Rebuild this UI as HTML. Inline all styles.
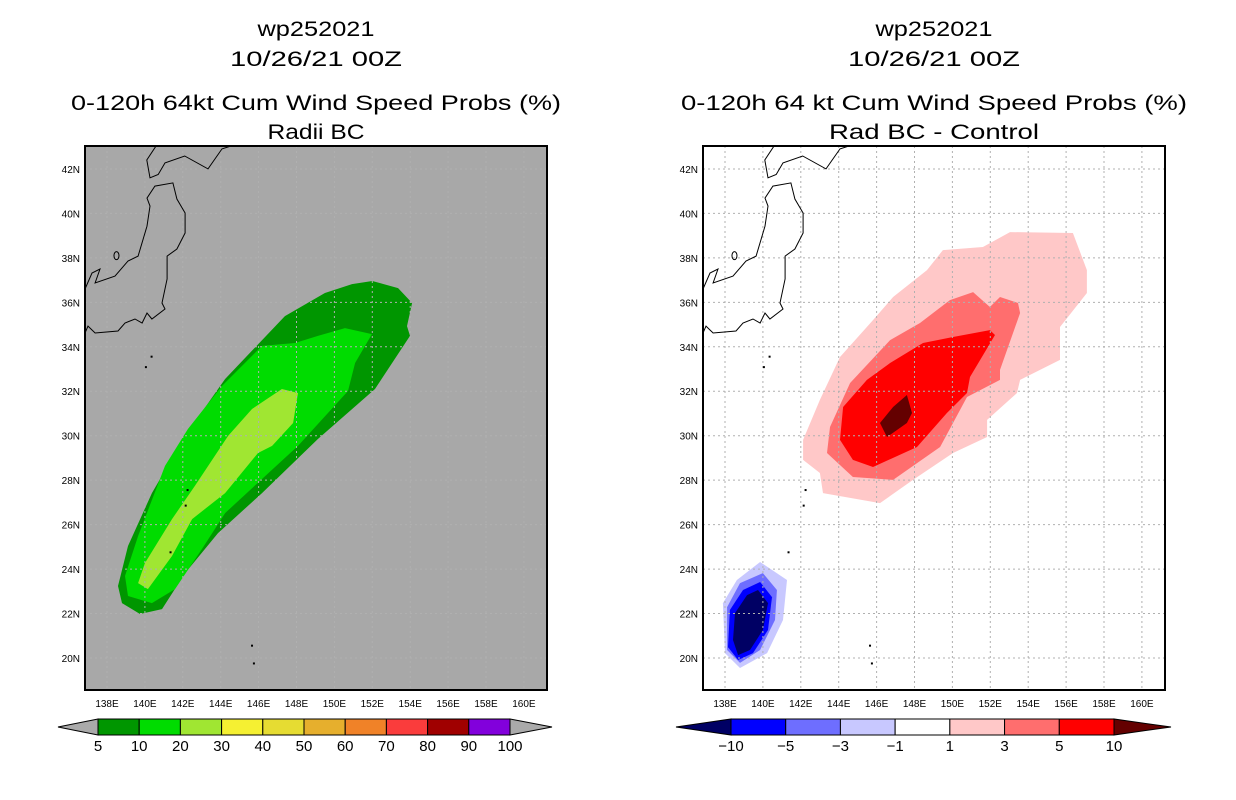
<!DOCTYPE html>
<html><head><meta charset="utf-8"><style>
html,body{margin:0;padding:0;background:#fff;}
svg{display:block;}
text{font-family:"Liberation Sans",sans-serif;}
</style></head><body>
<svg id="fig" width="1236" height="800" viewBox="0 0 1236 800">
<g id="left"></g>
<g id="right"></g>
</svg>
<script>
// ---- data ----
const latTicks = [20,22,24,26,28,30,32,34,36,38,40,42];
const lonTicks = [138,140,142,144,146,148,150,152,154,156,158,160];
const leftLevels = ['5','10','20','30','40','50','60','70','80','90','100'];
const leftColors = ['#009600','#00dc00','#a0e632','#f5f032','#e6dc32','#e6af2d','#f08228','#fa3c3c','#a00000','#8200dc'];
const rightLevels = ['−10','−5','−3','−1','1','3','5','10'];
const rightColors = ['#0000ff','#6e6eff','#c8c8ff','#ffffff','#ffc8c8','#ff6e6e','#ff0000'];
const prob5 = [[152.0,36.96],[153.36,36.64],[154.1,35.97],[153.83,34.93],[153.99,34.49],[152.14,32.1],[149.13,29.85],[146.18,27.42],[143.86,25.62],[142.12,23.82],[140.9,22.2],[139.74,21.98],[138.79,22.47],[138.58,23.24],[139.11,25.04],[140.37,27.42],[142.12,29.99],[144.23,32.55],[147.39,35.38],[149.5,36.42],[150.93,36.82]];
const prob10 = [[150.56,34.84],[151.98,34.57],[151.09,33.27],[150.72,32.01],[148.08,29.54],[146.18,28.05],[144.23,26.52],[143.01,24.9],[141.59,23.1],[140.37,22.47],[139.11,22.79],[138.95,23.69],[139.64,25.49],[141.06,28.64],[142.27,30.3],[144.07,32.24],[146.18,34.04],[147.92,34.17],[149.13,34.49]];
const prob20 = [[147.23,32.1],[148.08,31.92],[147.82,30.57],[146.71,29.54],[145.97,29.22],[144.23,27.42],[142.49,26.25],[141.43,24.59],[140.16,23.1],[139.64,23.37],[140.0,24.27],[141.43,26.25],[142.64,27.74],[144.39,29.99],[145.65,31.2]];
const diffP1 = [[153.04,39.16],[156.36,39.12],[157.1,37.45],[157.1,36.42],[155.68,34.89],[155.68,33.41],[153.57,32.51],[153.41,31.92],[151.83,30.71],[151.83,29.94],[150.03,29.22],[147.92,28.01],[146.18,26.97],[143.17,27.42],[143.01,28.32],[142.12,28.91],[142.12,29.81],[143.01,31.61],[144.07,33.54],[145.81,35.2],[146.87,36.24],[148.66,37.45],[149.5,38.35],[151.61,38.49]];
const diffP3 = [[151.09,36.46],[151.98,35.79],[152.51,36.24],[153.46,35.97],[153.57,35.52],[152.51,32.96],[152.51,32.51],[150.77,31.74],[149.35,29.49],[146.87,28.01],[144.75,28.14],[143.38,29.22],[143.54,30.39],[144.6,32.37],[146.71,34.3],[148.29,35.07],[149.87,36.1]];
const diffP5 = [[151.98,34.75],[152.25,34.53],[150.93,32.64],[150.77,31.92],[149.71,31.02],[148.13,29.49],[145.81,28.59],[144.75,28.91],[144.07,29.81],[144.23,31.29],[145.49,32.51],[146.71,33.27],[148.45,34.17],[150.03,34.44]];
const diffP10 = [[147.6,31.83],[147.87,31.02],[147.6,30.57],[146.55,29.94],[146.18,30.57],[146.87,31.29]];
const diffN1 = [[139.85,24.32],[141.27,23.51],[141.06,21.71],[140.22,20.22],[138.79,19.55],[138.0,20.22],[137.89,22.47],[138.63,23.51]];
const diffN3 = [[140.0,23.82],[140.74,23.06],[140.64,21.71],[139.85,20.36],[138.79,19.78],[138.11,20.36],[138.11,22.29],[138.79,23.37]];
const diffN5 = [[139.85,23.42],[140.48,22.74],[140.27,21.26],[139.48,20.22],[138.69,19.91],[138.16,20.49],[138.26,22.16],[138.95,23.06]];
const diffN10 = [[139.74,23.06],[140.27,22.47],[140.0,21.26],[139.32,20.36],[138.69,20.13],[138.42,20.81],[138.53,22.02],[139.16,22.83]];
const honshu = [[136.84,36.6],[137.21,37.32],[137.63,37.5],[137.37,36.87],[138.42,37.18],[139.11,37.86],[139.64,38.08],[140.11,39.43],[140.27,40.33],[140.11,40.69],[140.53,41.23],[141.48,41.37],[141.69,40.65],[142.12,40.02],[142.12,39.12],[141.69,38.4],[141.17,38.08],[141.17,37.05],[140.9,35.97],[141.06,35.7],[140.37,35.25],[140.11,35.52],[139.85,35.07],[139.48,35.25],[138.95,35.07],[138.58,34.71],[137.37,34.62],[137.0,34.93],[136.84,34.62]];
const hokkaido = [[140.6,43.05],[140.1,42.4],[140.27,41.6],[140.7,41.75],[141.06,42.27],[142.1,42.58],[143.33,42.0],[144.07,42.9],[144.6,43.05]];
const islands = [[140.0,33.13],[142.2,27.6],[142.1,26.9],[141.3,24.8],[145.6,20.6],[145.7,19.8],[140.3,33.6]];

const NS='http://www.w3.org/2000/svg';
function el(tag, attrs, parent){const e=document.createElementNS(NS,tag);for(const k in attrs)e.setAttribute(k,attrs[k]);parent.appendChild(e);return e;}

function panel(gid, x0, bg, polys, title1, title2, t3, t4, t3span, t4span, cb){
  const g=document.getElementById(gid);
  const L=x0, R=x0+462, T=146, B=690;
  const lonS=(lon)=>x0+22+(lon-138)*18.95;
  const latS=(lat)=>658-(lat-20)*22.23;
  const cx=x0+231;
  const defs=el('defs',{},g);
  const cp=el('clipPath',{id:gid+'-clip'},defs);
  el('rect',{x:L,y:T,width:462,height:544},cp);
  const bgR=el('rect',{x:L,y:T,width:462,height:544,fill:bg},g);
  
  
  const plot=el('g',{'clip-path':'url(#'+gid+'-clip)'},g);
  polys.forEach(p=>{
    const pg=el('polygon',{points:p.pts.map(q=>lonS(q[0]).toFixed(1)+','+latS(q[1]).toFixed(1)).join(' '),fill:p.c},plot);
    
    
  });
  // grid
  lonTicks.forEach(v=>{const l=el('line',{x1:lonS(v),x2:lonS(v),y1:T,y2:B,stroke:'#b0b0b0','stroke-width':1,'stroke-dasharray':'2,3'},plot);
    
    });
  latTicks.forEach(v=>{const l=el('line',{x1:L,x2:R,y1:latS(v),y2:latS(v),stroke:'#b0b0b0','stroke-width':1,'stroke-dasharray':'2,3'},plot);
    
    });
  // coast
  [honshu,hokkaido].forEach(c=>{const pl=el('polyline',{points:c.map(q=>lonS(q[0]).toFixed(1)+','+latS(q[1]).toFixed(1)).join(' '),fill:'none',stroke:'#000','stroke-width':1},plot);
    
    });
  const sado=el('ellipse',{cx:lonS(138.5),cy:latS(38.1),rx:2.5,ry:4,fill:'none',stroke:'#000','stroke-width':1},plot);
  
  
  islands.forEach(q=>{const d=el('rect',{x:lonS(q[0]),y:latS(q[1]),width:2,height:2,fill:'#000'},plot);
    
    });
  const fr=el('rect',{x:L,y:T,width:462,height:544,fill:'none',stroke:'#000','stroke-width':2},g);
  
  
  latTicks.forEach(v=>{const t=el('text',{x:L-5,y:latS(v)+4,'text-anchor':'end','font-size':10,fill:'#000'},g);t.textContent=v+'N';
    
    });
  lonTicks.forEach(v=>{const t=el('text',{x:lonS(v),y:707,'text-anchor':'middle','font-size':10,fill:'#000'},g);t.textContent=v+'E';
    
    });
  // titles
  const titles=[[title1,36,117],[title2,66,172],[t3,110,t3span],[t4,139,t4span]];
  titles.forEach((tt,i)=>{const t=el('text',{x:cx,y:tt[1],'text-anchor':'middle','font-size':21,textLength:tt[2],lengthAdjust:'spacingAndGlyphs',fill:'#000'},g);t.textContent=tt[0];
    
    });
  // colorbar
  const cbg=el('g',{},g);
  
  
  const n=cb.colors.length, x1=cb.x1, x2=cb.x2, w=(x2-x1)/n;
  const lt=el('polygon',{points:`${cb.tl},727 ${x1},719 ${x1},735`,fill:cb.lc,stroke:'#000','stroke-width':1},cbg);
  
  
  const rt=el('polygon',{points:`${cb.tr},727 ${x2},719 ${x2},735`,fill:cb.rc,stroke:'#000','stroke-width':1},cbg);
  
  
  cb.colors.forEach((c,i)=>{const r=el('rect',{x:x1+i*w,y:719,width:w,height:16,fill:c,stroke:'#000','stroke-width':1},cbg);
    
    });
  cb.labels.forEach((s,i)=>{const off=cb.labels.length===n+1?i:i;const t=el('text',{x:x1+off*w,y:751,'text-anchor':'middle','font-size':15,fill:'#000'},cbg);t.textContent=s;
    
    });
}

panel('left',85,'#a8a8a8',[
  {pts:prob5,c:'#009600',n:'prob-5-contour'},
  {pts:prob10,c:'#00dc00',n:'prob-10-contour'},
  {pts:prob20,c:'#a0e632',n:'prob-20-contour'}
],'wp252021','10/26/21 00Z','0-120h 64kt Cum Wind Speed Probs (%)','Radii BC',490,97,
{x1:98,x2:510,tl:58,tr:552,colors:leftColors,labels:leftLevels,lc:'#aaaaaa',rc:'#aaaaaa'});

panel('right',703,'#ffffff',[
  {pts:diffP1,c:'#ffc8c8',n:'diff-plus1-contour'},
  {pts:diffP3,c:'#ff6e6e',n:'diff-plus3-contour'},
  {pts:diffP5,c:'#ff0000',n:'diff-plus5-contour'},
  {pts:diffP10,c:'#640000',n:'diff-plus10-contour'},
  {pts:diffN1,c:'#c8c8ff',n:'diff-minus1-contour'},
  {pts:diffN3,c:'#6e6eff',n:'diff-minus3-contour'},
  {pts:diffN5,c:'#0000ff',n:'diff-minus5-contour'},
  {pts:diffN10,c:'#000064',n:'diff-minus10-contour'}
],'wp252021','10/26/21 00Z','0-120h 64 kt Cum Wind Speed Probs (%)','Rad BC - Control',506,210,
{x1:731,x2:1114,tl:676,tr:1171,colors:rightColors,labels:rightLevels,lc:'#000064',rc:'#640000'});
</script>
</body></html>
